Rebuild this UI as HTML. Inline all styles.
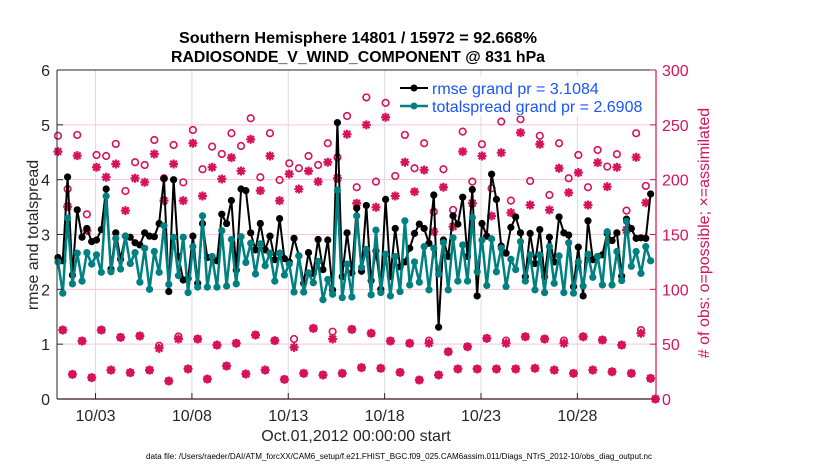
<!DOCTYPE html>
<html><head><meta charset="utf-8"><style>
html,body{margin:0;padding:0;background:#fff;}
svg{display:block;font-family:"Liberation Sans",sans-serif;}
</style></head><body>
<svg id="chart" width="830" height="470" viewBox="0 0 830 470" xmlns="http://www.w3.org/2000/svg">
<rect width="830" height="470" fill="#fff"/>
<g id="grid"></g>
<g id="obs"></g>
<g id="lines"></g>
<g id="axes"></g>
<text x="358" y="43" text-anchor="middle" font-size="16" font-weight="bold" textLength="358" lengthAdjust="spacingAndGlyphs">Southern Hemisphere 14801 / 15972 = 92.668%</text>
<text x="358" y="62" text-anchor="middle" font-size="16" font-weight="bold" textLength="374" lengthAdjust="spacingAndGlyphs">RADIOSONDE_V_WIND_COMPONENT @ 831 hPa</text>
<text x="356" y="441" text-anchor="middle" font-size="16" fill="#262626">Oct.01,2012 00:00:00 start</text>
<text x="399" y="459" text-anchor="middle" font-size="8" textLength="506" lengthAdjust="spacingAndGlyphs" fill="#000">data file: /Users/raeder/DAI/ATM_forcXX/CAM6_setup/f.e21.FHIST_BGC.f09_025.CAM6assim.011/Diags_NTrS_2012-10/obs_diag_output.nc</text>
<text transform="translate(38,235) rotate(-90)" text-anchor="middle" font-size="16" fill="#262626">rmse and totalspread</text>
<text transform="translate(709,233) rotate(-90)" text-anchor="middle" font-size="16" fill="#d6125a"># of obs: o=possible; ×=assimilated</text>
<g id="legend">
  <rect x="395" y="76" width="222" height="40" fill="#fff"/>
  <line x1="400" y1="88" x2="428" y2="88" stroke="#000" stroke-width="2"/>
  <circle cx="414" cy="88" r="3.5" fill="#000"/>
  <text x="432" y="94" font-size="16" fill="#1a53ff">rmse grand pr = 3.1084</text>
  <line x1="400" y1="106" x2="428" y2="106" stroke="#008080" stroke-width="2.5"/>
  <circle cx="414" cy="106" r="3.5" fill="#008080"/>
  <text x="432" y="112" font-size="16" fill="#1a53ff">totalspread grand pr = 2.6908</text>
</g>
</svg>
<script>
const rmse = [2.58,2.52,4.05,2.26,3.45,2.95,3.11,2.87,2.9,3.09,3.83,2.37,3.03,2.55,2.97,2.95,2.85,2.81,3.03,2.97,2.96,3.2,4.02,1.96,4.0,2.6,2.17,2.2,2.97,2.11,3.2,2.58,
2.58,2.52,3.37,3.2,3.62,2.35,3.83,3.80,3.03,2.72,3.2,2.72,2.97,2.54,3.29,2.56,2.50,2.93,2.61,2.11,2.67,2.29,2.91,2.36,2.90,1.99,5.04,2.23,3.03,2.30,3.48,
2.33,3.53,2.16,2.7,2.0,3.64,2.23,3.11,2.41,2.50,2.75,3.02,3.19,3.11,2.84,3.72,1.31,2.90,2.60,3.34,3.19,3.68,2.60,3.82,1.88,3.2,2.97,4.10,3.64,2.79,
2.66,3.13,3.32,3.03,2.23,3.02,2.47,3.09,2.23,2.95,2.50,3.32,3.03,2.99,2.05,2.77,1.88,3.25,2.54,2.60,2.63,3.02,2.89,3.03,2.24,3.28,3.11,2.93,2.94,2.93,3.74];
const spread = [2.50,1.93,3.30,2.10,2.66,2.15,2.67,2.46,2.63,2.31,3.70,2.32,2.93,2.37,2.97,2.47,2.67,2.13,2.75,2.00,2.69,2.31,3.16,2.09,2.95,2.25,2.95,1.94,2.78,2.04,3.34,2.04,
2.60,2.04,3.07,2.06,2.91,2.10,2.96,2.49,2.84,2.28,2.83,2.43,2.66,2.15,2.66,2.26,2.46,1.95,2.61,1.95,2.30,2.12,2.51,1.81,2.18,1.91,3.81,1.85,2.46,1.86,3.34,
2.40,2.73,1.90,3.08,1.94,2.64,1.88,2.60,1.96,3.25,2.08,2.50,2.13,2.78,1.99,2.75,2.28,2.85,1.99,2.94,2.15,2.81,2.15,3.31,2.32,2.90,2.07,2.92,2.32,2.75,
2.05,2.55,2.36,2.87,2.15,2.63,1.99,2.63,1.94,2.78,2.11,2.61,1.94,2.85,1.93,2.50,2.06,2.64,2.22,2.60,2.08,3.05,2.08,2.69,2.16,3.24,2.42,2.69,2.29,2.78,2.52];
const possible = [240,62.9,191.5,22.5,240.8,52.9,168.4,19.5,222.5,62.9,221.6,26.4,232.6,56.2,189.7,24,215.9,57.5,213.4,26.4,
236.2,48.6,201.3,16.4,231.6,57,197.6,27.4,245.3,54.7,209.5,18.2,230.1,49.2,223.4,30.1,242.3,50.8,230.7,22.8,
256,58.4,202.2,26.4,242.3,53.2,199.7,17.9,214.9,54.7,210.4,23.4,221.6,64.4,213.4,21.9,233.2,61.4,220.4,23.4,
258.1,63.5,193.1,28.6,275,59.9,198.2,28,270,52.9,203.4,24.3,240.8,50.8,210.4,17.3,233.2,53.2,170.8,21.9,
209.5,43.1,172.4,27.4,243.8,47.7,198.2,27.4,232.3,55.3,192.1,27.4,252.9,53.2,180.9,27.4,255.1,56.8,198.8,28,
240,54.7,186,26.4,233.2,53.2,201.3,23.4,222.5,56.8,193.1,26.4,227.1,53.8,211.9,24.9,223.2,49.2,171.8,23.4,
242.3,62.8,194.3,18.8,0];
const assimilated = [225.6,62.9,175.4,22.5,221.9,52.9,153.5,19.5,211.3,62.9,202.2,26.4,214.3,56.2,171.8,24,201.3,57.5,197.6,26.4,
223.4,46.2,180.9,16.4,214.3,54.7,180.9,27.4,233.2,54.7,185.1,18.2,211.3,49.2,200.6,30.1,220.1,50.8,207.9,22.8,
236.8,58.4,190,26.4,221.6,53.2,180.9,17.9,205.2,47.1,191.5,23.4,207.9,64.4,198.2,21.9,215.9,54.7,201.3,23.4,
241.4,63.5,178.5,28.6,250,59.9,174.8,28,256.9,52.9,185.1,24.3,215.9,50.8,189,17.3,208.8,50.8,152.6,21.9,
193.1,43.1,157.2,27.4,225.6,47.7,178.5,27.4,221.6,55.3,166.9,27.4,224.6,50.8,169.9,27.4,242.9,56.8,176.9,28,
232.3,54.7,172.4,26.4,210.4,50.8,188.2,23.4,206.4,56.8,176.9,26.4,215.5,53.8,193.6,24.9,211.3,49.2,154.1,23.4,
220.4,59.9,179,18.8,0];
const xTickDays = [2,7,12,17,22,27];
const xTickLabels = ["10/03","10/08","10/13","10/18","10/23","10/28"];
const leftTicks = [0,1,2,3,4,5,6];
const rightTicks = [0,50,100,150,200,250,300];

const NS = "http://www.w3.org/2000/svg";
const L = 57, R = 656, T = 70, B = 399;
const tMax = 31.08;
const xS = t => L + t*(R-L)/tMax;
const tOf = i => 0.05 + 0.25*i;
const yL = v => B - v*(B-T)/6;
const yR = n => B - n*(B-T)/300;
const crim = "#d6125a";
function mk(tag, attrs, parent){ const e=document.createElementNS(NS,tag); for(const k in attrs) e.setAttribute(k,attrs[k]); parent.appendChild(e); return e; }

const grid = document.getElementById('grid');
xTickDays.forEach(d=>{
  const g = mk('line',{x1:xS(d),x2:xS(d),y1:T,y2:B,stroke:"#dcdcdc","stroke-width":1},grid);
  
  
});
rightTicks.forEach(n=>{
  if(n===0||n===300) return;
  const g = mk('line',{x1:L,x2:R,y1:yR(n),y2:yR(n),stroke:"#f3c6d6","stroke-width":1},grid);
  
  
});

const obs = document.getElementById('obs');
possible.forEach((n,i)=>{
  const c = mk('circle',{cx:xS(tOf(i)),cy:yR(n),r:3.3,fill:"none",stroke:crim,"stroke-width":1.6},obs);
  
  
});
assimilated.forEach((n,i)=>{
  const x=xS(tOf(i)), y=yR(n), s=4.5;
  const g = mk('path',{d:`M${x-s} ${y}H${x+s}M${x} ${y-s}V${y+s}M${x-3.3} ${y-3.3}L${x+3.3} ${y+3.3}M${x-3.3} ${y+3.3}L${x+3.3} ${y-3.3}`,stroke:crim,"stroke-width":2.2,fill:"none"},obs);
  
  
  const d = mk('circle',{cx:x,cy:y,r:2.6,fill:crim},obs);
  
  
});

const lines = document.getElementById('lines');
function series(vals,color,w,name){
  const pts = vals.map((v,i)=>xS(tOf(i)).toFixed(1)+","+yL(v).toFixed(1)).join(" ");
  const pl = mk('polyline',{points:pts,fill:"none",stroke:color,"stroke-width":w,"stroke-linejoin":"round"},lines);
  
  
  vals.forEach((v,i)=>{
    const c = mk('circle',{cx:xS(tOf(i)),cy:yL(v),r:3.6,fill:color},lines);
    
    
  });
}
series(rmse,"#000",2,"rmse");
series(spread,"#008080",2.5,"totalspread");

const axes = document.getElementById('axes');
let a;
a = mk('line',{x1:L,x2:R,y1:T,y2:T,stroke:"#262626","stroke-width":1},axes);


a = mk('line',{x1:L,x2:R,y1:B,y2:B,stroke:"#3a1020","stroke-width":1.2},axes);


a = mk('line',{x1:L,x2:L,y1:T,y2:B,stroke:"#262626","stroke-width":1},axes);


a = mk('line',{x1:R,x2:R,y1:T,y2:B,stroke:crim,"stroke-width":1.2},axes);


xTickDays.forEach((d,k)=>{
  const tk = mk('line',{x1:xS(d),x2:xS(d),y1:B,y2:B-6,stroke:"#262626","stroke-width":1},axes);
  
  
  const tx = mk('text',{x:xS(d),y:421,"text-anchor":"middle","font-size":16,fill:"#262626"},axes);
  tx.textContent = xTickLabels[k];
  
  
});
leftTicks.forEach(v=>{
  const tk = mk('line',{x1:L,x2:L+6,y1:yL(v),y2:yL(v),stroke:"#262626","stroke-width":1},axes);
  
  
  const tx = mk('text',{x:L-7,y:yL(v)+6,"text-anchor":"end","font-size":16,fill:"#262626"},axes);
  tx.textContent = v;
  
  
});
rightTicks.forEach(n=>{
  const tk = mk('line',{x1:R-6,x2:R,y1:yR(n),y2:yR(n),stroke:crim,"stroke-width":1},axes);
  
  
  const tx = mk('text',{x:R+6,y:yR(n)+6,"text-anchor":"start","font-size":16,fill:crim},axes);
  tx.textContent = n;
  
  
});
</script>
</body></html>
